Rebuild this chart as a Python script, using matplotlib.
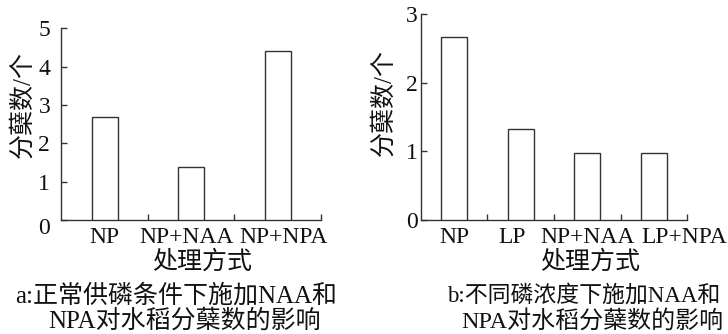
import matplotlib
matplotlib.use("Agg")
import matplotlib.pyplot as plt
import matplotlib.transforms as mtransforms

# Tillering data: normal P supply with NAA / NPA
cats_a = ["NP", "NP+NAA", "NP+NPA"]
vals_a = [2.68, 1.37, 4.40]
yticks_a = [0, 1, 2, 3, 4, 5]

# Tillering data: different P levels with NAA / NPA
cats_b = ["NP", "LP", "NP+NAA", "LP+NPA"]
vals_b = [2.66, 1.33, 0.97, 0.97]
yticks_b = [0, 1, 2, 3]

ylabel = "分蘖数/个"
xlabel = "处理方式"
caption_a = ["a:正常供磷条件下施加NAA和", "NPA对水稻分蘖数的影响"]
caption_b = ["b:不同磷浓度下施加NAA和", "NPA对水稻分蘖数的影响"]

FAM = ["Liberation Serif", "Noto Sans CJK SC", "DejaVu Sans"]
plt.rcParams["font.family"] = FAM
LINE = "#333333"
FS = 17
CJK_FS = 18

fig = plt.figure(figsize=(7.28, 3.34), dpi=100)
W, H = 728, 334


def px_axes(x0, x1, ytop, ybot):
    return fig.add_axes([x0 / W, 1 - ybot / H, (x1 - x0) / W, (ybot - ytop) / H])


def shift(artist, dx_px, dy_px):
    artist.set_transform(artist.get_transform() +
                         mtransforms.ScaledTranslation(dx_px / 100, dy_px / 100, fig.dpi_scale_trans))


def style(ax, cats, vals, yticks, width, pad):
    n = len(cats)
    xs = [i + 0.5 for i in range(n)]
    ax.bar(xs, vals, width=width, facecolor="white", edgecolor=LINE, linewidth=1.0, zorder=3)
    ax.set_xlim(0, n)
    ax.set_ylim(yticks[0], yticks[-1])
    for s in ("top", "right"):
        ax.spines[s].set_visible(False)
    for s in ("left", "bottom"):
        ax.spines[s].set_color(LINE)
        ax.spines[s].set_linewidth(1.0)
    ax.set_xticks(range(1, n + 1))
    ax.set_xticklabels([])
    ax.set_xticks(xs, minor=True)
    ax.set_xticklabels(cats, minor=True, fontsize=FS)
    ax.tick_params(axis="x", which="major", direction="in", length=4.5, width=1.0, color=LINE)
    ax.tick_params(axis="x", which="minor", length=0, pad=5, labelcolor="#111111")
    ax.set_yticks(yticks)
    ax.set_yticklabels([str(t) for t in yticks], fontsize=FS)
    ax.tick_params(axis="y", direction="in", length=4.5, width=1.0, color=LINE,
                   pad=pad, labelcolor="#111111")
    return ax


ax1 = px_axes(61.3, 321, 28.3, 220)
style(ax1, cats_a, vals_a, yticks_a, 0.3, 8)
ax2 = px_axes(420.7, 687.3, 14, 220)
style(ax2, cats_b, vals_b, yticks_b, 0.39, 2)

# zero label on the left panel sits a little lower
shift(ax1.get_yticklabels()[0], 0, -6)
# spread crowded category labels apart
xl1 = ax1.get_xticklabels(minor=True)
shift(xl1[1], -5, 0)
shift(xl1[2], 6, 0)
xl2 = ax2.get_xticklabels(minor=True)
shift(xl2[1], -9, 0)
shift(xl2[3], 30, 0)


def ftext(x, y, s, **kw):
    fig.text(x / W, 1 - y / H, s, color="#111111", **kw)


ftext(23, 105, ylabel, rotation=90, ha="center", va="center", fontsize=CJK_FS)
ftext(384, 102, ylabel, rotation=90, ha="center", va="center", fontsize=CJK_FS)
ftext(202, 262, xlabel, ha="center", va="center", fontsize=CJK_FS)
ftext(590, 262, xlabel, ha="center", va="center", fontsize=CJK_FS)

ftext(176, 296, caption_a[0], ha="center", va="center", fontsize=CJK_FS)
ftext(185, 321, caption_a[1], ha="center", va="center", fontsize=CJK_FS)
ftext(584, 296, caption_b[0], ha="center", va="center", fontsize=16.5)
ftext(592, 321, caption_b[1], ha="center", va="center", fontsize=17.3)

fig.savefig("out.png", dpi=100, facecolor="white")
